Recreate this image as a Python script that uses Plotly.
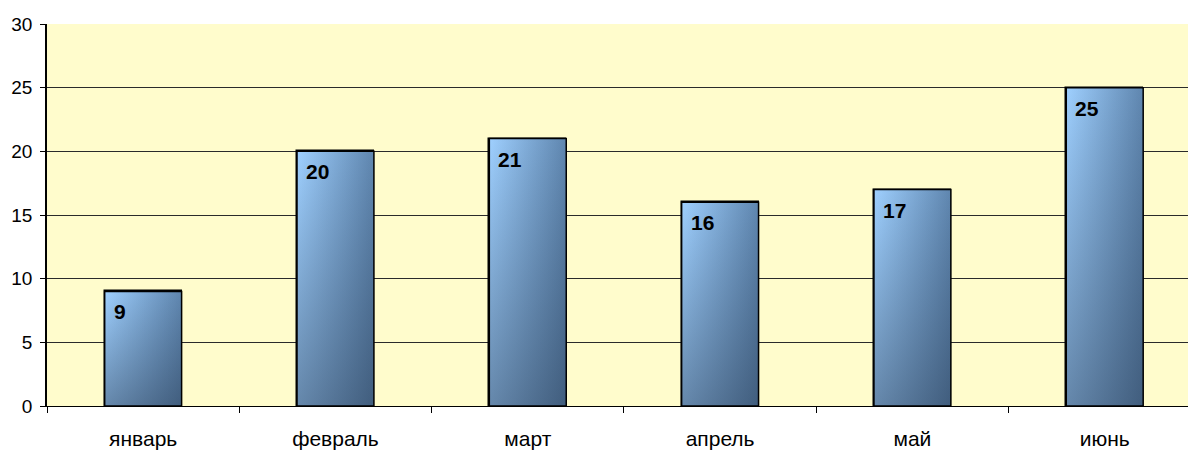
import plotly.graph_objects as go

# ---- data ----
months = ["январь", "февраль", "март", "апрель", "май", "июнь"]
values = [9, 20, 21, 16, 17, 25]
y_ticks = [0, 5, 10, 15, 20, 25, 30]

bar_width = 0.4
xs = list(range(len(months)))

FONT = "Liberation Sans, Arial, sans-serif"

fig = go.Figure()

# real bar trace (underneath; gradient overlays drawn on top)
fig.add_trace(go.Bar(
    x=xs, y=values, width=bar_width,
    marker=dict(color="#7FA6CF", line=dict(color="black", width=1.5)),
    hoverinfo="x+y", showlegend=False,
))

# gradient fills following each bar's extent
for i, v in zip(xs, values):
    x0, x1 = i - bar_width / 2, i + bar_width / 2
    px = [x0, x1, x1, x0, x0]
    py = [0, 0, v, v, 0]
    fig.add_trace(go.Scatter(
        x=px, y=py, fill="toself", mode="none",
        fillgradient=dict(type="horizontal",
                          colorscale=[[0, "#9FD0FF"], [1, "#5F86AF"]],
                          start=x0, stop=x1),
        hoverinfo="skip", showlegend=False,
    ))
    fig.add_trace(go.Scatter(
        x=px, y=py, fill="toself", mode="lines",
        line=dict(color="black", width=1.5),
        fillgradient=dict(type="vertical",
                          colorscale=[[0, "rgba(22,36,56,0.42)"], [1, "rgba(22,36,56,0)"]],
                          start=0, stop=v),
        hoverinfo="skip", showlegend=False,
    ))

# value labels at top-left inside each bar
for i, v in zip(xs, values):
    fig.add_annotation(
        x=i - bar_width / 2, y=v, text=f"<b>{v}</b>", showarrow=False,
        xanchor="left", yanchor="top", xshift=7, yshift=-7,
        font=dict(family=FONT, size=21, color="black"),
    )

fig.update_layout(
    width=1188, height=450,
    margin=dict(l=47, r=0, t=24, b=44),
    paper_bgcolor="white",
    plot_bgcolor="#FFFCCC",
    showlegend=False,
    bargap=0,
)

fig.update_xaxes(
    range=[-0.5, 5.433],
    tickmode="array", tickvals=xs, ticktext=months,
    ticks="", ticklabelstandoff=14, automargin=False,
    tickfont=dict(family=FONT, size=21, color="black"),
    showgrid=False, zeroline=False,
    showline=True, linecolor="black", linewidth=1,
    minor=dict(ticks="outside", ticklen=6, tickcolor="black", tickwidth=1,
               tick0=0.5, dtick=1, showgrid=False),
)

fig.update_yaxes(
    range=[0, 30], automargin=False,
    tickmode="array", tickvals=y_ticks,
    ticks="outside", ticklen=5, tickcolor="black", tickwidth=1,
    ticklabelstandoff=4,
    tickfont=dict(family=FONT, size=19, color="black"),
    showgrid=True, gridcolor="#2a2a2a", gridwidth=1,
    zeroline=False,
    showline=True, linecolor="black", linewidth=1.5,
)

fig.write_html(
    "out.html",
    config={"displayModeBar": False},
    post_script="document.body.style.margin='0';document.body.style.overflow='hidden';",
)
